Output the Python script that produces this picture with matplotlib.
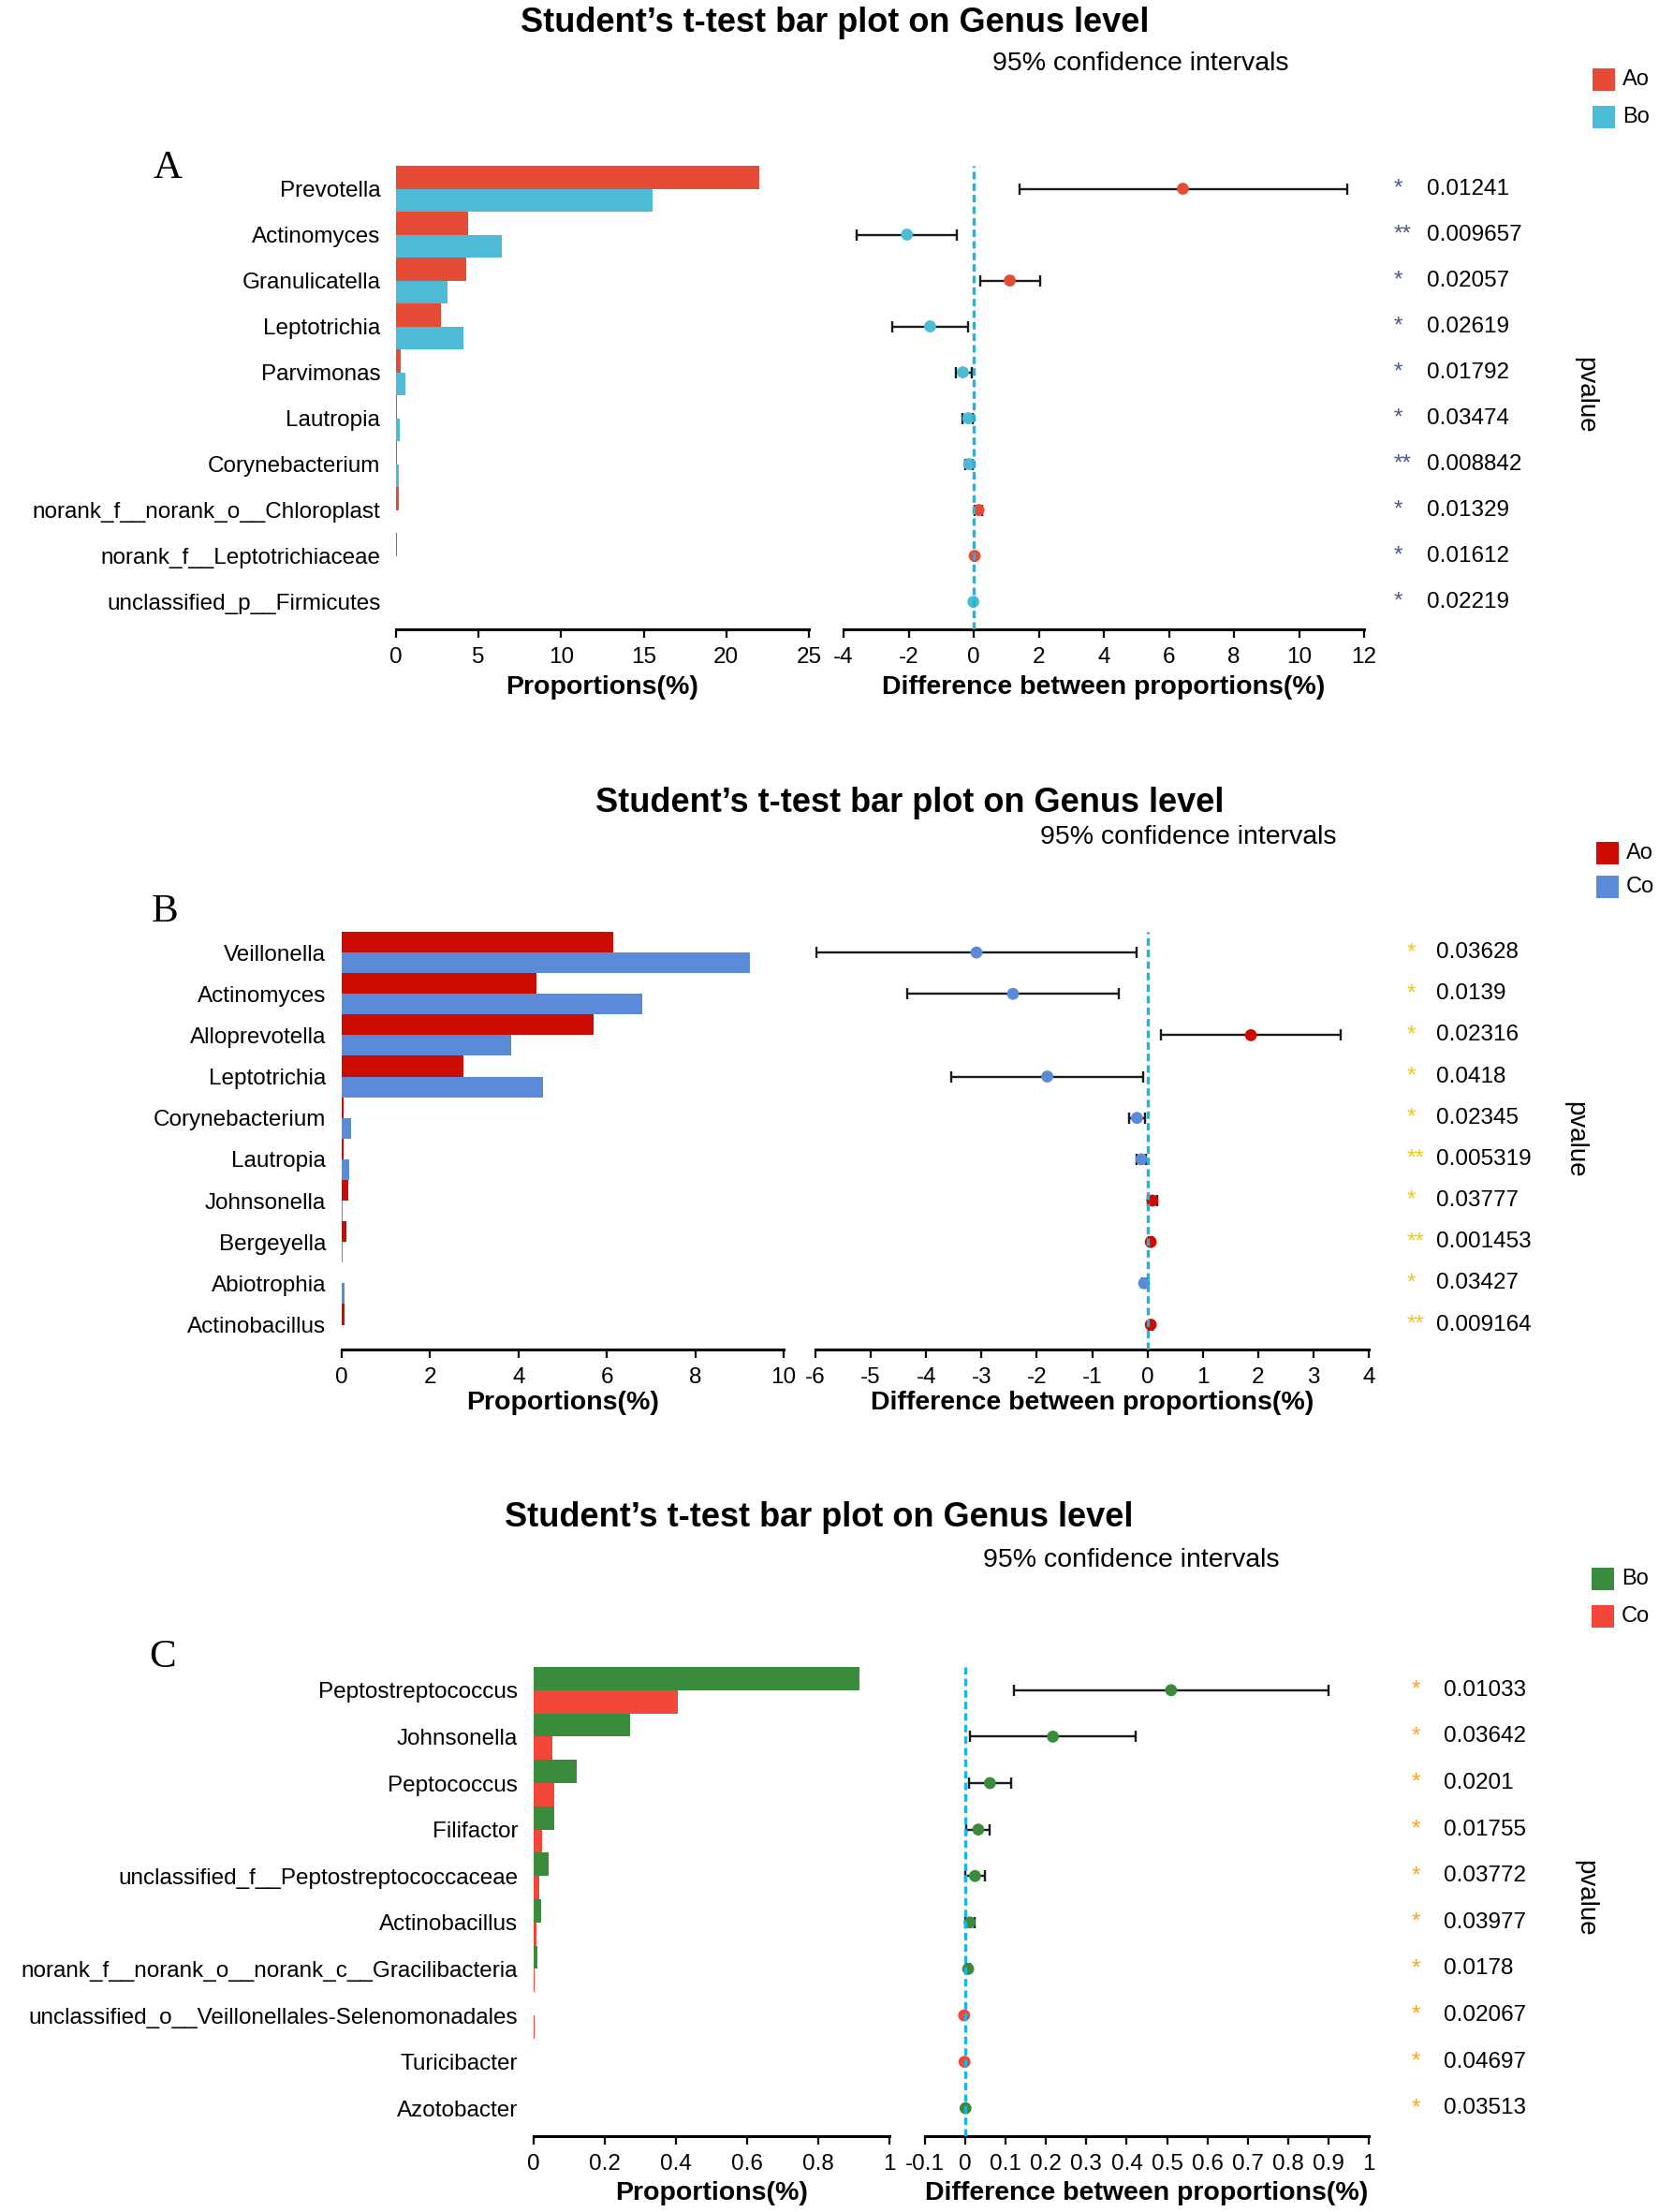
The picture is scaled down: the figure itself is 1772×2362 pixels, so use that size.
import matplotlib
matplotlib.use("Agg")
import matplotlib.pyplot as plt
from matplotlib.patches import Rectangle
from matplotlib.transforms import blended_transform_factory
import numpy as np

plt.rcParams['font.family'] = ['Liberation Sans', 'DejaVu Sans']

# ---- panel A : Ao vs Bo ----
a_taxa = ['Prevotella', 'Actinomyces', 'Granulicatella', 'Leptotrichia', 'Parvimonas',
          'Lautropia', 'Corynebacterium', 'norank_f__norank_o__Chloroplast',
          'norank_f__Leptotrichiaceae', 'unclassified_p__Firmicutes']
a_g1 = [21.97, 4.39, 4.27, 2.72, 0.26, 0.06, 0.04, 0.17, 0.03, 0.003]
a_g2 = [15.54, 6.43, 3.14, 4.06, 0.59, 0.23, 0.17, 0.02, 0.005, 0.015]
a_diff = [6.43, -2.05, 1.11, -1.34, -0.33, -0.17, -0.14, 0.15, 0.03, -0.01]
a_lo = [1.42, -3.60, 0.19, -2.50, -0.56, -0.35, -0.27, 0.03, 0.01, -0.02]
a_hi = [11.47, -0.51, 2.05, -0.17, -0.05, -0.02, -0.02, 0.27, 0.05, 0.0]
a_p = ['0.01241', '0.009657', '0.02057', '0.02619', '0.01792',
       '0.03474', '0.008842', '0.01329', '0.01612', '0.02219']
a_sig = ['*', '**', '*', '*', '*', '*', '**', '*', '*', '*']
a_groups = ['Ao', 'Bo']

# ---- panel B : Ao vs Co ----
b_taxa = ['Veillonella', 'Actinomyces', 'Alloprevotella', 'Leptotrichia', 'Corynebacterium',
          'Lautropia', 'Johnsonella', 'Bergeyella', 'Abiotrophia', 'Actinobacillus']
b_g1 = [6.14, 4.41, 5.69, 2.75, 0.04, 0.05, 0.14, 0.10, 0.01, 0.06]
b_g2 = [9.24, 6.81, 3.83, 4.55, 0.22, 0.16, 0.03, 0.02, 0.07, 0.01]
b_diff = [-3.09, -2.43, 1.87, -1.81, -0.19, -0.11, 0.09, 0.06, -0.06, 0.06]
b_lo = [-5.99, -4.34, 0.25, -3.55, -0.34, -0.19, 0.005, 0.03, -0.09, 0.03]
b_hi = [-0.20, -0.51, 3.49, -0.07, -0.04, -0.03, 0.175, 0.09, -0.03, 0.09]
b_p = ['0.03628', '0.0139', '0.02316', '0.0418', '0.02345',
       '0.005319', '0.03777', '0.001453', '0.03427', '0.009164']
b_sig = ['*', '*', '*', '*', '*', '**', '*', '**', '*', '**']
b_groups = ['Ao', 'Co']

# ---- panel C : Bo vs Co ----
c_taxa = ['Peptostreptococcus', 'Johnsonella', 'Peptococcus', 'Filifactor',
          'unclassified_f__Peptostreptococcaceae', 'Actinobacillus',
          'norank_f__norank_o__norank_c__Gracilibacteria',
          'unclassified_o__Veillonellales-Selenomonadales', 'Turicibacter', 'Azotobacter']
c_g1 = [0.915, 0.272, 0.121, 0.058, 0.041, 0.020, 0.010, 0.0003, 0.0005, 0.0006]
c_g2 = [0.404, 0.053, 0.058, 0.024, 0.016, 0.009, 0.003, 0.002, 0.001, 0.0003]
c_diff = [0.510, 0.217, 0.061, 0.032, 0.024, 0.011, 0.007, -0.003, -0.002, 0.0005]
c_lo = [0.121, 0.011, 0.008, 0.003, -0.001, 0.000, 0.003, -0.005, -0.003, 0.0]
c_hi = [0.900, 0.423, 0.113, 0.060, 0.048, 0.023, 0.011, -0.001, -0.001, 0.001]
c_p = ['0.01033', '0.03642', '0.0201', '0.01755', '0.03772',
       '0.03977', '0.0178', '0.02067', '0.04697', '0.03513']
c_sig = ['*'] * 10
c_groups = ['Bo', 'Co']

W, H = 1772, 2362
fig = plt.figure(figsize=(W / 100, H / 100), dpi=100)


def fx(px):
    return px / W


def fy(py):
    return 1 - py / H


def panel(letter, taxa, g1, g2, diff, lo, hi, pvals, sig, groups, colors, star_color,
          lticks, rticks, geo):
    n = len(taxa)
    y = np.arange(n)
    top, bot = geo['top'], geo['bot']
    hgt = (bot - top) / H
    axl = fig.add_axes([fx(geo['l0']), fy(bot), fx(geo['l1'] - geo['l0']), hgt])
    axr = fig.add_axes([fx(geo['r0']), fy(bot), fx(geo['r1'] - geo['r0']), hgt])

    axl.barh(y - 0.25, g1, height=0.5, color=colors[0], lw=0)
    axl.barh(y + 0.25, g2, height=0.5, color=colors[1], lw=0)
    axl.set_xlim(lticks[0], lticks[-1])
    axl.set_yticks(y, taxa)
    axl.tick_params(axis='y', length=0, pad=12, labelsize=17.5)

    dline = '#1cb4e6'
    axr.axvline(0, color=dline, lw=2.4, ls=(0, (2.4, 1.3)), zorder=5)
    diff = np.array(diff)
    axr.errorbar(diff, y, xerr=[diff - np.array(lo), np.array(hi) - diff], fmt='none',
                 ecolor='#1a1a1a', elinewidth=1.7, capsize=4, capthick=1.7, zorder=3)
    pcol = [colors[0] if d >= 0 else colors[1] for d in diff]
    axr.scatter(diff, y, s=85, c=pcol, zorder=4, lw=0)
    axr.set_xlim(rticks[0], rticks[-1])
    axr.set_yticks([])

    for ax, ticks in ((axl, lticks), (axr, rticks)):
        ax.set_ylim(n - 0.4, -0.5)
        for s in ('top', 'right', 'left'):
            ax.spines[s].set_visible(False)
        ax.spines['bottom'].set_linewidth(2.2)
        ax.set_xticks(ticks, [f'{t:g}' for t in ticks])
        ax.tick_params(axis='x', length=6.5, width=1.6, labelsize=17.5, pad=7)
        ax.xaxis.label.set_va('center')
        ax.xaxis.set_label_coords(0.5, -geo['xlab'] / (bot - top))

    axl.set_xlabel('Proportions(%)', fontsize=20.5, fontweight='bold')
    axr.set_xlabel('Difference between proportions(%)', fontsize=20.5, fontweight='bold')

    # p-values on the right
    tr = blended_transform_factory(fig.transFigure, axr.transData)
    for i in range(n):
        fig.text(fx(geo['star']), i, sig[i], transform=tr, color=star_color,
                 fontsize=17.5, va='center', ha='left')
        fig.text(fx(geo['pval']), i, pvals[i], transform=tr,
                 fontsize=17.5, va='center', ha='left')
    fig.text(fx(geo['pv_x']), fy(geo['pv_y']), 'pvalue', rotation=-90,
             fontsize=20, ha='center', va='center')

    # titles and letter
    fig.text(fx(geo['title'][0]), fy(geo['title'][1]),
             'Student’s t-test bar plot on Genus level',
             fontsize=26, fontweight='bold', ha='center', va='center')
    fig.text(fx(geo['ci'][0]), fy(geo['ci'][1]), '95% confidence intervals',
             fontsize=20.5, ha='center', va='center')
    fig.text(fx(geo['letter'][0]), fy(geo['letter'][1]), letter,
             family=['Liberation Serif', 'DejaVu Serif'], fontsize=31,
             ha='center', va='center')

    # legend boxes
    for k, (g, c) in enumerate(zip(groups, colors)):
        yc = geo['leg'][1] + k * geo['leg'][2]
        fig.add_artist(Rectangle((fx(geo['leg'][0]), fy(yc + 12)), fx(24), 24 / H,
                                 transform=fig.transFigure, color=c, lw=0))
        fig.text(fx(geo['leg'][0] + 32), fy(yc), g, fontsize=17, va='center', ha='left')


panel('A', a_taxa, a_g1, a_g2, a_diff, a_lo, a_hi, a_p, a_sig, a_groups,
      ['#e64b35', '#4dbbd5'], '#4b5a8c',
      [0, 5, 10, 15, 20, 25], [-4, -2, 0, 2, 4, 6, 8, 10, 12],
      dict(top=177, bot=672, l0=423, l1=864, r0=901, r1=1457, xlab=62,
           star=1489, pval=1524, pv_x=1693, pv_y=422,
           title=(892, 24), ci=(1218, 68), letter=(179, 180), leg=(1701, 85, 40)))

panel('B', b_taxa, b_g1, b_g2, b_diff, b_lo, b_hi, b_p, b_sig, b_groups,
      ['#cc0c00', '#5b8ad8'], '#f5c518',
      [0, 2, 4, 6, 8, 10], [-6, -5, -4, -3, -2, -1, 0, 1, 2, 3, 4],
      dict(top=995, bot=1441, l0=365, l1=837, r0=871, r1=1462, xlab=57,
           star=1503, pval=1534, pv_x=1682, pv_y=1217,
           title=(972, 857), ci=(1269, 894), letter=(176, 974), leg=(1705, 911, 36)))

panel('C', c_taxa, c_g1, c_g2, c_diff, c_lo, c_hi, c_p, c_sig, c_groups,
      ['#3a8c3c', '#f24638'], '#f5a623',
      [0, 0.2, 0.4, 0.6, 0.8, 1],
      [-0.1, 0, 0.1, 0.2, 0.3, 0.4, 0.5, 0.6, 0.7, 0.8, 0.9, 1],
      dict(top=1780, bot=2281, l0=570, l1=950, r0=988, r1=1462, xlab=61,
           star=1508, pval=1542, pv_x=1693, pv_y=2027,
           title=(875, 1620), ci=(1208, 1666), letter=(174, 1770), leg=(1700, 1686, 40)))

fig.savefig('out.png', dpi=100, facecolor='white')
